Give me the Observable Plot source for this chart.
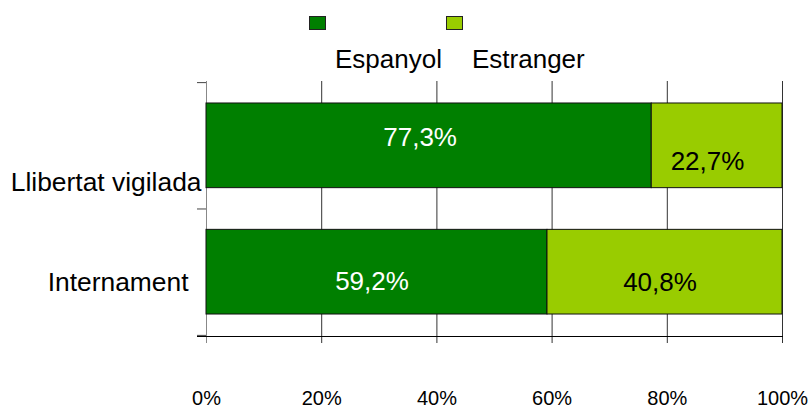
<!DOCTYPE html>
<html>
<head>
<meta charset="utf-8">
<script src="https://cdn.jsdelivr.net/npm/d3@7"></script>
<script src="https://cdn.jsdelivr.net/npm/@observablehq/plot@0.6"></script>
<style>
  html, body { margin: 0; padding: 0; background: #fff; }
  #wrap { position: relative; width: 808px; height: 409px; font-family: "Liberation Sans", Arial, sans-serif; }
  #chart { position: absolute; left: 0; top: 0; }
  .sw { position: absolute; width: 15px; height: 12px; border: 1px solid #222; }
  .lt { position: absolute; font-size: 26px; line-height: 30px; color: #000; white-space: nowrap; }
</style>
</head>
<body>
<div id="wrap">
  <div id="chart"></div>
  <div id="legend"></div>
</div>
<script>
const categories = ["Llibertat vigilada", "Internament"];
const series = ["Espanyol", "Estranger"];
const espanyol = [77.3, 59.2];
const estranger = [22.7, 40.8];
const xTicks = [0, 20, 40, 60, 80, 100];
const colors = ["#007F00", "#99CC00"];

const values = [espanyol, estranger];
const data = categories.flatMap((c, i) => series.map((s, j) => ({cat: c, serie: s, value: values[j][i]})));
const fmt = v => v.toFixed(1).replace(".", ",") + "%";
const font = "Liberation Sans, Arial, sans-serif";

function valueLabel(ci, si, fill, dx, dy) {
  return Plot.text(data, Plot.stackX({
    x: "value", y: "cat",
    text: d => (d.cat === categories[ci] && d.serie === series[si]) ? fmt(d.value) : "",
    fill, dx, dy, fontSize: 26, fontFamily: font
  }));
}

const half = 63.2;

const plot = Plot.plot({
  width: 808,
  height: 409,
  marginLeft: 206,
  marginRight: 26,
  marginTop: 81,
  marginBottom: 73,
  style: {fontFamily: font, background: "transparent"},
  x: {domain: [0, 100], axis: null, label: null},
  y: {domain: categories, axis: null, label: null, paddingInner: 0.33, paddingOuter: 0.174, round: false},
  color: {domain: series, range: colors},
  marks: [
    Plot.ruleX(xTicks.filter(t => t > 0), {x: d => d, stroke: "#333", strokeWidth: 1, insetBottom: -7}),
    Plot.ruleX([0], {x: d => d, stroke: "#888", strokeWidth: 1, insetBottom: -7}),
    Plot.frame({anchor: "bottom", stroke: "#000", insetLeft: -9}),
    Plot.axisY({ticks: [categories[0], categories[1]], tickSize: 9, tickFormat: () => "", label: null, dy: -half, stroke: "#444"}),
    Plot.axisY({ticks: [categories[1]], tickSize: 9, tickFormat: () => "", label: null, dy: half, stroke: "#444"}),
    Plot.barX(data, {x: "value", y: "cat", fill: "serie", stroke: "#111", strokeWidth: 1}),
    valueLabel(0, 0, "#fff", -9, -8.5),
    valueLabel(0, 1, "#000", -9.6, 16),
    valueLabel(1, 0, "#fff", -5, 9.5),
    valueLabel(1, 1, "#000", -5, 10),
    Plot.text([categories[0]], {y: d => d, frameAnchor: "left", textAnchor: "end", dx: -5, dy: 36.5, fontSize: 26.4, fill: "#000", fontFamily: font}),
    Plot.text([categories[1]], {y: d => d, frameAnchor: "left", textAnchor: "end", dx: -18, dy: 10, fontSize: 26.4, fill: "#000", fontFamily: font}),
    Plot.axisX(xTicks, {anchor: "bottom", tickSize: 0, tickPadding: 54, fontSize: 20, label: null, tickFormat: d => d + "%", fill: "#000", fontFamily: font})
  ]
});
document.getElementById("chart").appendChild(plot);

// legend overlay
const legend = document.getElementById("legend");
const legendPos = [{sq: 309, tx: 335}, {sq: 446, tx: 472}];
series.forEach((s, i) => {
  const sw = document.createElement("div");
  sw.className = "sw";
  sw.style.left = legendPos[i].sq + "px";
  sw.style.top = "16px";
  sw.style.background = colors[i];
  legend.appendChild(sw);
  const t = document.createElement("div");
  t.className = "lt";
  t.style.left = legendPos[i].tx + "px";
  t.style.top = "44px";
  t.textContent = s;
  legend.appendChild(t);
});
</script>
</body>
</html>
